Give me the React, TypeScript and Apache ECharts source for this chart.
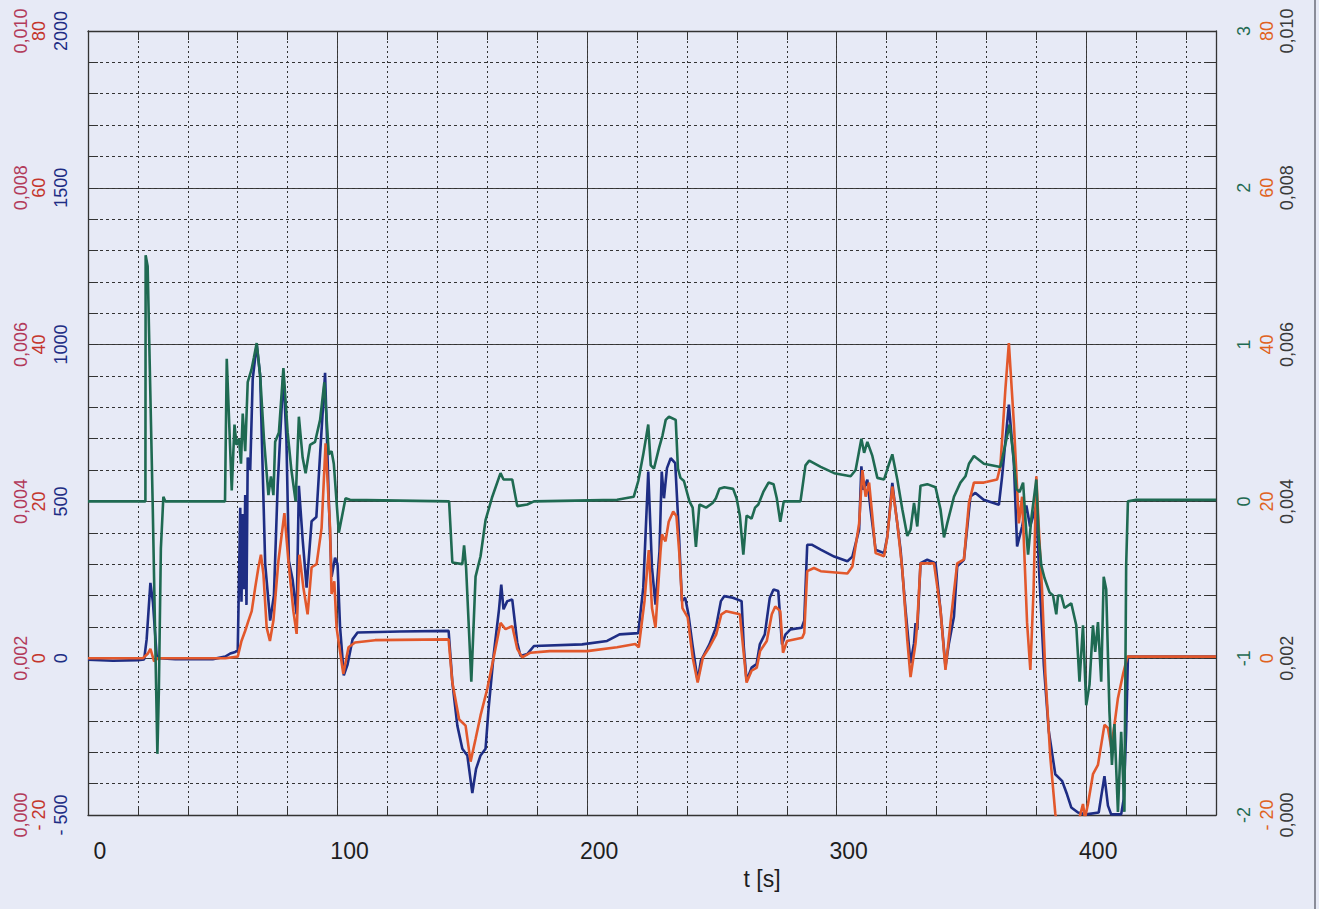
import React, { useEffect, useRef } from 'react';
import * as echarts from 'echarts';

// time axis (s)
const timeMin = 0;
const timeMax = 452;
const timeMajor = 100;
const timeMinor = 20;

// left axes
const blueAxis = { min: -500, max: 2000, interval: 500 };
const redLeftAxis = { min: -20, max: 80, interval: 20 };
const decAxis = { min: 0, max: 0.01, interval: 0.002 };
// right axes
const greenAxis = { min: -2, max: 3, interval: 1 };
const orangeAxis = { min: -20, max: 80, interval: 20 };

// navy series (left axis, -500..2000)
const blueData: [number, number][] = [
  [0, -5], [10, -8], [20, -6], [22.5, -4], [23.5, 60], [25, 240], [26, 180], [27.5, 10], [28.5, 0], [35, -3], [50, -3],
  [55, 5], [57, 15], [59, 20], [60, 25], [60.5, 250], [61, 480], [61.5, 180], [62, 460], [62.5, 220], [63, 520], [63.5, 170],
  [64, 640], [65, 600], [66, 890], [67.6, 1000], [69, 900], [70, 600], [71, 300], [73, 120], [74.5, 200], [76, 550],
  [78.3, 910], [79.5, 700], [80.5, 310], [82, 250], [83.6, 140], [84.5, 550], [86, 380], [87.6, 225], [89.6, 437],
  [91.5, 450], [93, 650], [95, 910], [96.5, 500], [97.6, 260], [99, 320], [100, 300], [101, 100], [102.5, -55], [104, -20],
  [106, 60], [108, 82], [125, 85], [144.5, 87], [146, -77], [148, -215], [150, -289], [152, -310], [154, -430], [155.5, -353],
  [157.3, -310], [159.3, -289], [160.5, -162], [162.5, 7], [164.7, 156], [165.6, 235], [166.5, 156], [168, 182], [170, 187],
  [172, 50], [173.3, 7], [176, 13], [178.7, 39], [198, 44], [208, 55], [213, 76], [220.5, 80], [222.5, 225], [224.5, 595],
  [226, 288], [227.4, 171], [229, 341], [229.9, 595], [230.8, 510], [232, 606], [233.5, 638], [235.3, 622], [236.8, 394],
  [238, 182], [239.3, 193], [240.6, 140], [242.2, 44], [244.3, -72], [245.6, -8], [249, 44], [251.6, 97], [253.6, 182],
  [255, 198], [258.4, 193], [261.9, 182], [262.8, 34], [263.9, -72], [265.9, -30], [267.9, -19], [269.2, 44], [271.2, 76],
  [273.2, 193], [274.7, 219], [276.6, 214], [278.1, 44], [279.5, 76], [281.5, 92], [286, 97], [287, 120], [288.2, 362],
  [290, 362], [293.6, 346], [299, 324], [304.3, 309], [306.3, 324], [309, 410], [309.9, 612], [310.7, 537], [312.3, 569],
  [313.6, 473], [315.6, 346], [319, 335], [320.3, 388], [322.3, 559], [323.6, 473], [325.6, 346], [327.6, 154], [329.6, -16],
  [331, 48], [331.6, 112], [332.3, 90], [333.6, 303], [336.3, 314], [339.6, 303], [341.6, 154], [343.6, -27], [345, 48],
  [347, 133], [348.3, 293], [351, 314], [353.6, 516], [355.6, 527], [358.9, 505], [365, 489], [366.3, 580], [369, 809],
  [371, 622], [372.3, 356], [374.3, 420], [376, 487], [377.5, 420], [380, 487], [381, 296], [383, -21], [385, -233],
  [387.6, -370], [390.3, -391], [392.3, -434], [394, -476], [396.7, -492], [400, -498], [405, -492], [407.3, -376],
  [408.7, -470], [410, -498], [414, -498], [415, -450], [416, -233], [416.7, 5], [430, 5], [452, 5],
];

// orange series (right axis, -20..80)
const orangeData: [number, number][] = [
  [0, 0], [22, 0], [24, 0.6], [25, 1.2], [26.5, -0.4], [28, 0], [55, 0], [60, 0.2], [61.5, 2.2], [63, 3.5], [64.3, 4.8],
  [65.6, 6], [67, 9], [68.3, 11.6], [69.3, 13.2], [70.3, 10.7], [71.6, 3.9], [72.9, 2.2], [74.3, 4.8], [76.3, 12.4],
  [78.7, 18.5], [80.3, 12.4], [82.3, 6], [83.6, 3.1], [84.7, 13.2], [86.3, 9], [88, 5.6], [89.6, 11.6], [91.6, 12],
  [93.6, 16.6], [95.2, 27.4], [97, 16.6], [97.6, 8.2], [98.7, 9.8], [99.6, 3.9], [102.3, -2], [104.4, 1.4], [107, 2],
  [115, 2.3], [144.5, 2.4], [146, -3.1], [148.7, -7.8], [150, -8.2], [151.3, -8.6], [153.3, -13.2], [155.3, -10.3],
  [157.3, -7.3], [160, -3.9], [162.7, 0.3], [165.3, 4.5], [167.3, 3.7], [170, 4.1], [172, 1.2], [174, 0.1], [177.3, 0.7],
  [185, 0.9], [200, 0.9], [212, 1.4], [219.3, 1.8], [220.7, 1.4], [223, 7.3], [224.7, 13.8], [226, 6.4], [227.4, 3.9],
  [229.4, 13.6], [230, 15.8], [231.4, 14.9], [232.7, 17.4], [234.5, 18.7], [235.8, 18.1], [236.9, 13.6], [238.2, 6.4],
  [240.3, 5.2], [242.3, 0.1], [244.3, -3.1], [246.4, 0.1], [249, 1.4], [251.7, 3], [253.8, 5.6], [255.8, 6], [261.2, 5.6],
  [262.8, 0.5], [263.9, -3.1], [265.9, -1.6], [268, -1.2], [269.3, 0.9], [272, 2.2], [274, 5.6], [275.4, 6.6], [277.4, 6],
  [278.5, 0.7], [280.1, 2.2], [286.2, 2.6], [287, 3.2], [288.2, 11.1], [290.9, 11.5], [293.6, 11.1], [304.3, 10.8],
  [306.3, 11.7], [309, 17.2], [310.3, 24], [311.6, 20.6], [313, 22.4], [314.3, 18.1], [315.6, 13.4], [319, 13],
  [320.3, 15.5], [322.3, 21.9], [324.3, 17.2], [326.3, 11.3], [328.3, 2.3], [329.6, -2.4], [331.6, 1.9], [332.3, 4.5],
  [333.6, 12.1], [339, 12.1], [341.6, 6.2], [343.6, -1.5], [345.6, 4.5], [348.3, 12.1], [351, 12.6], [353, 19.8],
  [355, 22.4], [359, 22.4], [364.3, 22.8], [365.6, 24.5], [367.6, 34.3], [369, 40.2], [371, 30], [373, 17.2], [374.3, 20.6],
  [376.3, 4.5], [377.6, -1.5], [378.9, 8.7], [380, 23.2], [380.9, 17.2], [382.3, 8.7], [383.6, -1.9], [385.6, -12.6],
  [387.6, -19.8], [389, -22.4], [395, -23.2], [398.7, -18.6], [399.5, -20.4], [400.7, -18.6], [402.7, -14.8],
  [404.7, -13.6], [407.3, -8.5], [408.7, -8.9], [410, -11.4], [411.3, -8.5], [412.7, -5.1], [414.7, -2.1], [416.5, 0.2],
  [452, 0.2],
];

// green series (right axis, -2..3)
const greenData: [number, number][] = [
  [0, 0], [23, 0], [23.1, 1.57], [23.9, 1.5], [25.9, 0], [27.8, -1.61], [28.4, -1.2], [29.2, -0.3], [30.2, 0.03], [31, 0],
  [54.9, 0], [55.6, 0.91], [57.6, 0.07], [58.7, 0.49], [59.5, 0.36], [60.5, 0.4], [61.3, 0.24], [62, 0.56], [63, 0.32],
  [64, 0.76], [65.5, 0.84], [66.5, 0.92], [67.6, 1.01], [69, 0.8], [70.5, 0.4], [72.3, 0.04], [73.3, 0.16], [74.3, 0.04],
  [75, 0.38], [76.5, 0.44], [78.3, 0.85], [80, 0.44], [81.5, 0.2], [83.2, 0], [84.5, 0.54], [86, 0.28], [87.2, 0.18],
  [89, 0.36], [91, 0.38], [93, 0.52], [94.7, 0.76], [96.5, 0.3], [97.6, 0.32], [98.5, 0.24], [100.5, -0.2], [103.2, 0.02],
  [105, 0.01], [144.7, 0], [146, -0.39], [150, -0.4], [150.7, -0.28], [151.5, -0.42], [153.6, -1.15], [155.3, -0.48],
  [157.3, -0.35], [159.3, -0.12], [162, 0.03], [165.3, 0.18], [166.5, 0.14], [170, 0.14], [172, -0.03], [176, -0.02],
  [178.7, 0], [212, 0.01], [218.7, 0.03], [220.5, 0.13], [222.5, 0.3], [224.5, 0.49], [225.5, 0.23], [226.8, 0.21],
  [228.8, 0.34], [230.2, 0.42], [231.5, 0.52], [232.8, 0.54], [235.5, 0.52], [236.4, 0.21], [237.4, 0.15], [238.8, 0.13],
  [241, 0], [242.3, -0.04], [243.6, -0.29], [245, -0.02], [247.7, -0.04], [250.3, -0.01], [251.6, 0.02], [253, 0.08],
  [255, 0.09], [258.5, 0.08], [259.9, 0.02], [261.2, -0.09], [262.6, -0.34], [263.9, -0.09], [265.9, -0.11], [267.3, -0.04],
  [268.6, -0.02], [270.6, 0.06], [272.7, 0.12], [274.7, 0.11], [276, 0.02], [277.4, -0.13], [278.8, 0], [285.5, 0],
  [287.5, 0.23], [289, 0.26], [293.6, 0.22], [299, 0.18], [305.6, 0.16], [307.6, 0.2], [309.9, 0.4], [311, 0.31],
  [312.3, 0.38], [314.3, 0.29], [316.3, 0.15], [319, 0.14], [321, 0.24], [322.3, 0.3], [324.3, 0.14], [326.3, -0.05],
  [328.3, -0.22], [329.6, -0.18], [331, -0.01], [332.3, -0.16], [333.6, 0.1], [336.3, 0.11], [339.6, 0.09], [341.6, -0.05],
  [343, -0.23], [344.3, -0.14], [347, 0.03], [349.6, 0.12], [351.6, 0.16], [353, 0.24], [355, 0.29], [359, 0.24],
  [365.6, 0.22], [366.3, 0.27], [369.3, 0.49], [370.7, 0.31], [372, 0.08], [373.3, 0.06], [374.7, 0.12], [376, -0.2],
  [376.7, -0.34], [378, -0.11], [380, 0.14], [381, -0.24], [382, -0.41], [383.3, -0.49], [385.3, -0.58], [386.7, -0.6],
  [388, -0.72], [388.7, -0.6], [390, -0.6], [391.3, -0.68], [394, -0.65], [396, -0.79], [397.3, -1.15], [398.7, -0.79],
  [400, -1.3], [401.3, -1.17], [402.7, -0.79], [403.6, -0.96], [404.7, -0.77], [406, -1.15], [407, -0.48], [408, -0.56],
  [409.3, -1.34], [410.3, -1.68], [411.3, -1.42], [412.7, -1.98], [414, -1.47], [415.3, -1.98], [416, -0.41], [416.7, 0],
  [420, 0.01], [452, 0.01],
];

const BG = '#e7eaf6';
const NAVY = '#1e2d84';
const ORANGE = '#e2582c';
const GREEN = '#1f6a52';
const SANS = "'Liberation Sans', Arial, sans-serif";

const negSpace = (v: number) => (v < 0 ? '- ' + Math.abs(v) : String(v));
const decComma = (v: number) => v.toFixed(3).replace('.', ',');

const majorLine = { show: true, lineStyle: { color: '#404040', width: 1 } };
const noLine = { show: false, onZero: false };

function yLabelAxis(
  position: 'left' | 'right',
  range: { min: number; max: number; interval: number },
  offset: number,
  color: string,
  formatter: (v: number) => string,
  margin: number
) {
  return {
    type: 'value',
    position,
    offset,
    min: range.min,
    max: range.max,
    interval: range.interval,
    axisLine: noLine,
    axisTick: { show: false },
    splitLine: { show: false },
    axisLabel: { rotate: 90, margin, color, fontSize: 18, fontFamily: SANS, formatter },
  };
}

export default function App() {
  const ref = useRef<HTMLDivElement>(null);
  useEffect(() => {
    if (!ref.current) return;
    const chart = echarts.init(ref.current, null, { renderer: 'svg' });
    const option = {
      animation: false,
      backgroundColor: BG,
      grid: { left: 88, right: 103, top: 31, bottom: 94, show: false },
      xAxis: [
        {
          type: 'value',
          position: 'bottom',
          min: timeMin,
          max: timeMax,
          interval: timeMajor,
          axisLine: { show: true, onZero: false, lineStyle: { color: '#333', width: 1.3 } },
          axisTick: { show: false },
          splitLine: majorLine,
          axisLabel: {
            margin: 24,
            fontSize: 23,
            fontFamily: SANS,
            color: '#1e1e1e',
            padding: [0, 0, 0, 24],
            showMaxLabel: false,
            formatter: (v: number) => (v % timeMajor === 0 ? String(v) : ''),
          },
          name: 't [s]',
          nameLocation: 'middle',
          nameGap: 52,
          nameTextStyle: { fontSize: 23, fontFamily: SANS, color: '#1e1e1e', padding: [0, 0, 0, 220] },
        },
        {
          type: 'value',
          position: 'bottom',
          min: timeMin,
          max: timeMax,
          interval: timeMinor,
          axisLine: noLine,
          axisTick: { show: true, inside: true, length: 9, lineStyle: { color: '#333' } },
          axisLabel: { show: false },
          splitLine: { show: true, lineStyle: { color: '#333', width: 1, type: [2, 3] } },
        },
        {
          type: 'value',
          position: 'top',
          min: timeMin,
          max: timeMax,
          interval: timeMinor,
          axisLine: { show: true, onZero: false, lineStyle: { color: '#333', width: 1.3 } },
          axisTick: { show: true, inside: true, length: 9, lineStyle: { color: '#333' } },
          axisLabel: { show: false },
          splitLine: { show: false },
        },
      ],
      yAxis: [
        // 0: navy left axis
        {
          type: 'value',
          position: 'left',
          min: blueAxis.min,
          max: blueAxis.max,
          interval: blueAxis.interval,
          axisLine: { show: true, onZero: false, lineStyle: { color: '#333', width: 1.3 } },
          axisTick: { show: false },
          splitLine: majorLine,
          axisLabel: { rotate: 90, margin: 18, color: NAVY, fontSize: 18, fontFamily: SANS, formatter: negSpace },
        },
        // 1: red left axis
        yLabelAxis('left', redLeftAxis, 22, '#c4352c', negSpace, 18),
        // 2: crimson left decimal axis
        yLabelAxis('left', decAxis, 40, '#b23a5a', decComma, 18),
        // 3: minor grid, left ticks
        {
          type: 'value',
          position: 'left',
          min: blueAxis.min,
          max: blueAxis.max,
          interval: 100,
          axisLine: noLine,
          axisTick: { show: true, inside: true, length: 10, lineStyle: { color: '#333' } },
          axisLabel: { show: false },
          splitLine: { show: true, lineStyle: { color: '#333', width: 1, type: [3, 3] } },
        },
        // 4: green right axis
        {
          type: 'value',
          position: 'right',
          min: greenAxis.min,
          max: greenAxis.max,
          interval: greenAxis.interval,
          axisLine: { show: true, onZero: false, lineStyle: { color: '#333', width: 1.3 } },
          axisTick: { show: false },
          splitLine: { show: false },
          axisLabel: { rotate: 90, margin: 19, color: GREEN, fontSize: 18, fontFamily: SANS },
        },
        // 5: orange right axis
        yLabelAxis('right', orangeAxis, 23, '#e0621e', negSpace, 19),
        // 6: gray right decimal axis
        yLabelAxis('right', decAxis, 43, '#3a3a3a', decComma, 19),
        // 7: right minor ticks
        {
          type: 'value',
          position: 'right',
          min: blueAxis.min,
          max: blueAxis.max,
          interval: 100,
          axisLine: noLine,
          axisTick: { show: true, inside: true, length: 10, lineStyle: { color: '#333' } },
          axisLabel: { show: false },
          splitLine: { show: false },
        },
      ],
      graphic: [
        { type: 'line', shape: { x1: 1315, y1: 0, x2: 1315, y2: 909 }, style: { stroke: '#8a8c98', lineWidth: 2 } },
      ],
      series: [
        {
          type: 'line',
          name: 'navy',
          xAxisIndex: 0,
          yAxisIndex: 0,
          data: blueData,
          showSymbol: false,
          clip: true,
          lineStyle: { color: NAVY, width: 2.6 },
          itemStyle: { color: NAVY },
        },
        {
          type: 'line',
          name: 'orange',
          xAxisIndex: 0,
          yAxisIndex: 5,
          data: orangeData,
          showSymbol: false,
          clip: true,
          lineStyle: { color: ORANGE, width: 2.6 },
          itemStyle: { color: ORANGE },
        },
        {
          type: 'line',
          name: 'green',
          xAxisIndex: 0,
          yAxisIndex: 4,
          data: greenData,
          showSymbol: false,
          clip: true,
          lineStyle: { color: GREEN, width: 2.6 },
          itemStyle: { color: GREEN },
        },
      ],
    };
    chart.setOption(option as any);
    return () => chart.dispose();
  }, []);
  return (
    <div
      ref={ref}
      style={{ position: 'fixed', left: 0, top: 0, width: 1319, height: 909, background: BG }}
    />
  );
}
